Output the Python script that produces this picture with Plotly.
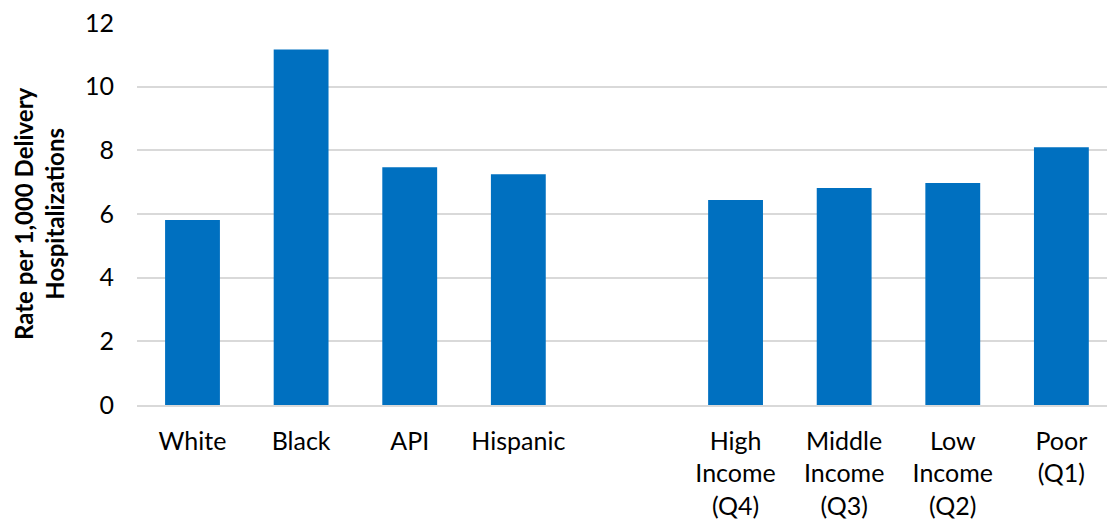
import plotly.graph_objects as go

categories = ["White", "Black", "API", "Hispanic", "",
              "High<br>Income<br>(Q4)", "Middle<br>Income<br>(Q3)",
              "Low<br>Income<br>(Q2)", "Poor<br>(Q1)"]
rates = [5.81, 11.17, 7.47, 7.25, None, 6.44, 6.82, 6.97, 8.1]
y_ticks = [0, 2, 4, 6, 8, 10, 12]

positions = list(range(len(categories)))

fig = go.Figure()
fig.add_trace(go.Bar(
    x=positions, y=rates, width=0.505,
    marker=dict(color="#0070C0", line=dict(width=0)),
    hoverinfo="skip",
))

L, W, H = 137, 1107, 521
plot_w = W - L
fig.update_layout(
    width=W, height=H,
    margin=dict(l=L, r=0, t=23, b=116, autoexpand=False),
    plot_bgcolor="white", paper_bgcolor="white",
    showlegend=False,
    font=dict(family="Lato, 'Open Sans', sans-serif", size=25, color="#000000"),
    xaxis=dict(
        tickmode="array", tickvals=positions, ticktext=categories,
        range=[-0.511, 8.42], showgrid=False, zeroline=False,
        showline=True, linecolor="#d9d9d9", linewidth=1.5,
        ticks="", ticklabelstandoff=13, automargin=False,
        tickfont=dict(size=25),
    ),
    yaxis=dict(
        range=[0, 12], tickmode="array", tickvals=y_ticks,
        showgrid=True, gridcolor="#d9d9d9", gridwidth=1.5,
        zeroline=False, showline=False, ticks="",
        ticklabelstandoff=22, automargin=False,
    ),
    annotations=[dict(
        text="<b>Rate per 1,000 Delivery<br>Hospitalizations</b>",
        textangle=-90, xref="paper", yref="paper",
        x=(39 - L) / plot_w, y=0.5, xanchor="center", yanchor="middle",
        showarrow=False, font=dict(size=24), align="center",
    )],
)

fig.write_html("out.html")
